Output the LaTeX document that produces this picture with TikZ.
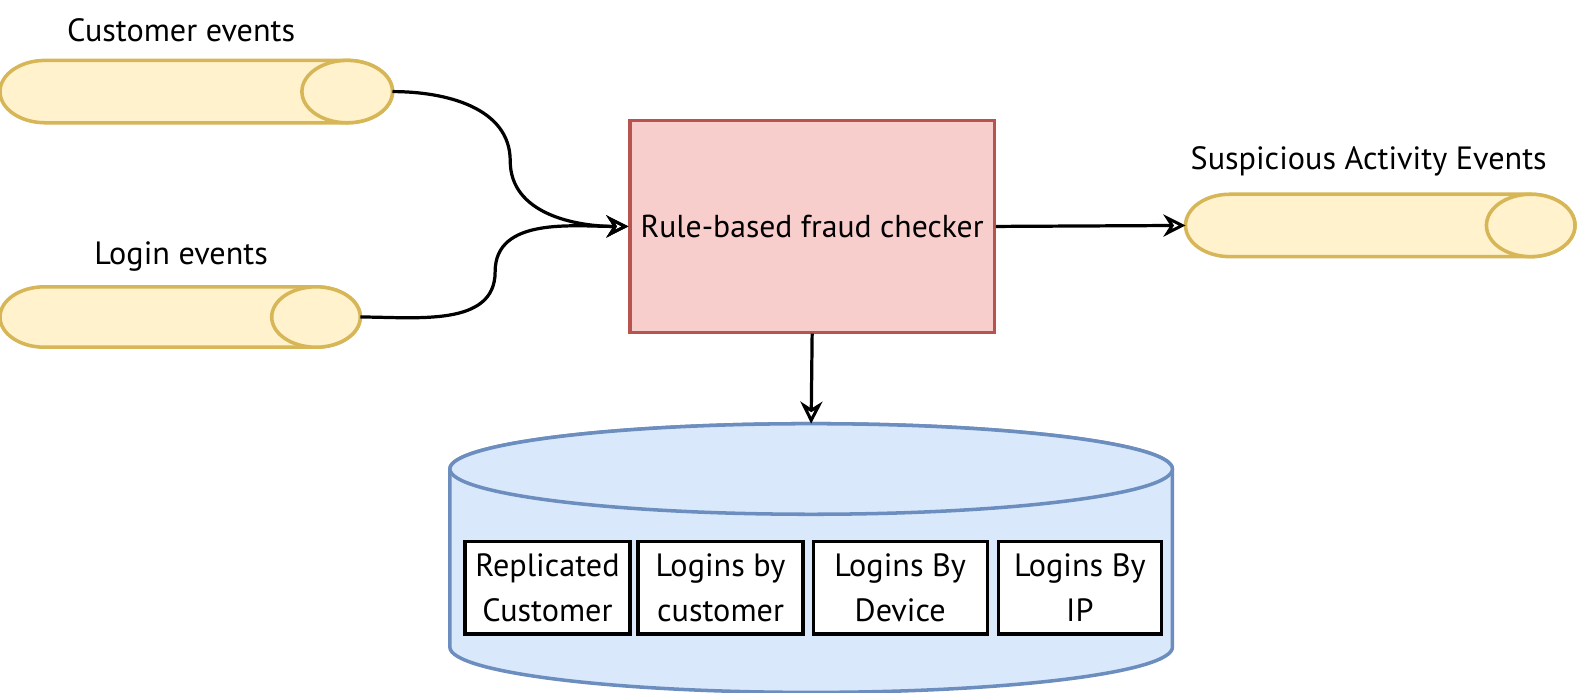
\documentclass[tikz,border=0pt]{standalone}
\usepackage{fontspec}
\setmainfont{PT Sans}
\usetikzlibrary{arrows.meta}
\definecolor{yfill}{HTML}{FFF2CC}
\definecolor{ydraw}{HTML}{D6B656}
\definecolor{rfill}{HTML}{F8CECC}
\definecolor{rdraw}{HTML}{B85450}
\definecolor{bfill}{HTML}{DAE8FC}
\definecolor{bdraw}{HTML}{6C8EBF}
\begin{document}
\begin{tikzpicture}[x=1pt,y=-1pt,
  cylY/.style={fill=yfill, draw=ydraw, line width=3.5pt},
  cylB/.style={fill=bfill, draw=bdraw, line width=3.5pt},
  lbl/.style={font=\fontsize{32}{38}\selectfont, inner sep=0pt},
  holder/.style={draw=none, inner sep=0pt, outer sep=0pt},
  conn/.style={line width=3.2pt, -{Stealth[open, length=22pt, width=22pt, inset=7pt, line width=3pt]}},
  tbl/.style={draw=black, fill=white, line width=3.2pt, align=center, inner sep=0pt,
    minimum height=92pt, font=\fontsize{32}{45}\selectfont},
  proc/.style={draw=rdraw, fill=rfill, line width=3pt, inner sep=0pt,
    minimum width=362pt, minimum height=210pt, font=\fontsize{31.5}{36}\selectfont}
]
\useasboundingbox (0,0) rectangle (1568,688.6);

% Customer events topic
\node[holder, minimum width=390pt, minimum height=62pt] (cust) at (195,91) {};
\draw[cylY] (45,60) -- (345,60) arc[start angle=90,end angle=-90,x radius=45pt,y radius=31pt]
  -- (45,122) arc[start angle=270,end angle=90,x radius=45pt,y radius=31pt] -- cycle;
\draw[cylY] (345,91) ellipse[x radius=45pt, y radius=31pt];
\node[lbl] (custlbl) at (180,30) {Customer events};

% Login events topic
\node[holder, minimum width=358pt, minimum height=60pt] (login) at (179,315) {};
\draw[cylY] (44,285) -- (314,285) arc[start angle=90,end angle=-90,x radius=44pt,y radius=30pt]
  -- (44,345) arc[start angle=270,end angle=90,x radius=44pt,y radius=30pt] -- cycle;
\draw[cylY] (314,315) ellipse[x radius=44pt, y radius=30pt];
\node[lbl] (loginlbl) at (180,255) {Login events};

% Suspicious activity events topic
\node[holder, minimum width=387pt, minimum height=62pt] (susp) at (1371.5,224) {};
\draw[cylY] (1222,193) -- (1521,193) arc[start angle=90,end angle=-90,x radius=44pt,y radius=31pt]
  -- (1222,255) arc[start angle=270,end angle=90,x radius=44pt,y radius=31pt] -- cycle;
\draw[cylY] (1521,224) ellipse[x radius=44pt, y radius=31pt];
\node[lbl] (susplbl) at (1360,160) {Suspicious Activity Events};

% Fraud checker
\node[proc] (fraud) at (807,225) {Rule-based fraud checker};

% Database
\node[holder, minimum width=718pt, minimum height=267pt] (db) at (806,554.5) {};
\draw[cylB] (447,466) -- (447,643) arc[start angle=180,end angle=360,x radius=359pt,y radius=45pt]
  -- (1165,466) arc[start angle=0,end angle=180,x radius=359pt,y radius=45pt] -- cycle;
\draw[cylB] (806,466) ellipse[x radius=359pt, y radius=45pt];

% Tables
\node[tbl, minimum width=164pt] (t1) at (544,584) {Replicated\\Customer};
\node[tbl, minimum width=164pt] (t2) at (716,584) {Logins by\\customer};
\node[tbl, minimum width=173pt] (t3) at (894.5,584) {Logins By\\Device};
\node[tbl, minimum width=162pt] (t4) at (1073,584) {Logins By\\IP};

% Connectors
\coordinate (bend1) at (507,160);
\coordinate (bend2) at (492,270);
\draw[conn] (cust.east) to[out=0,in=90] (bend1) to[out=-90,in=180] (fraud.west);
\draw[conn] (login.east) to[out=0,in=-90] (bend2) to[out=90,in=180] (fraud.west);
\draw[conn] (fraud.east) -- (susp.west);
\draw[conn] (fraud.south) -- (db.north);
\end{tikzpicture}
\end{document}
